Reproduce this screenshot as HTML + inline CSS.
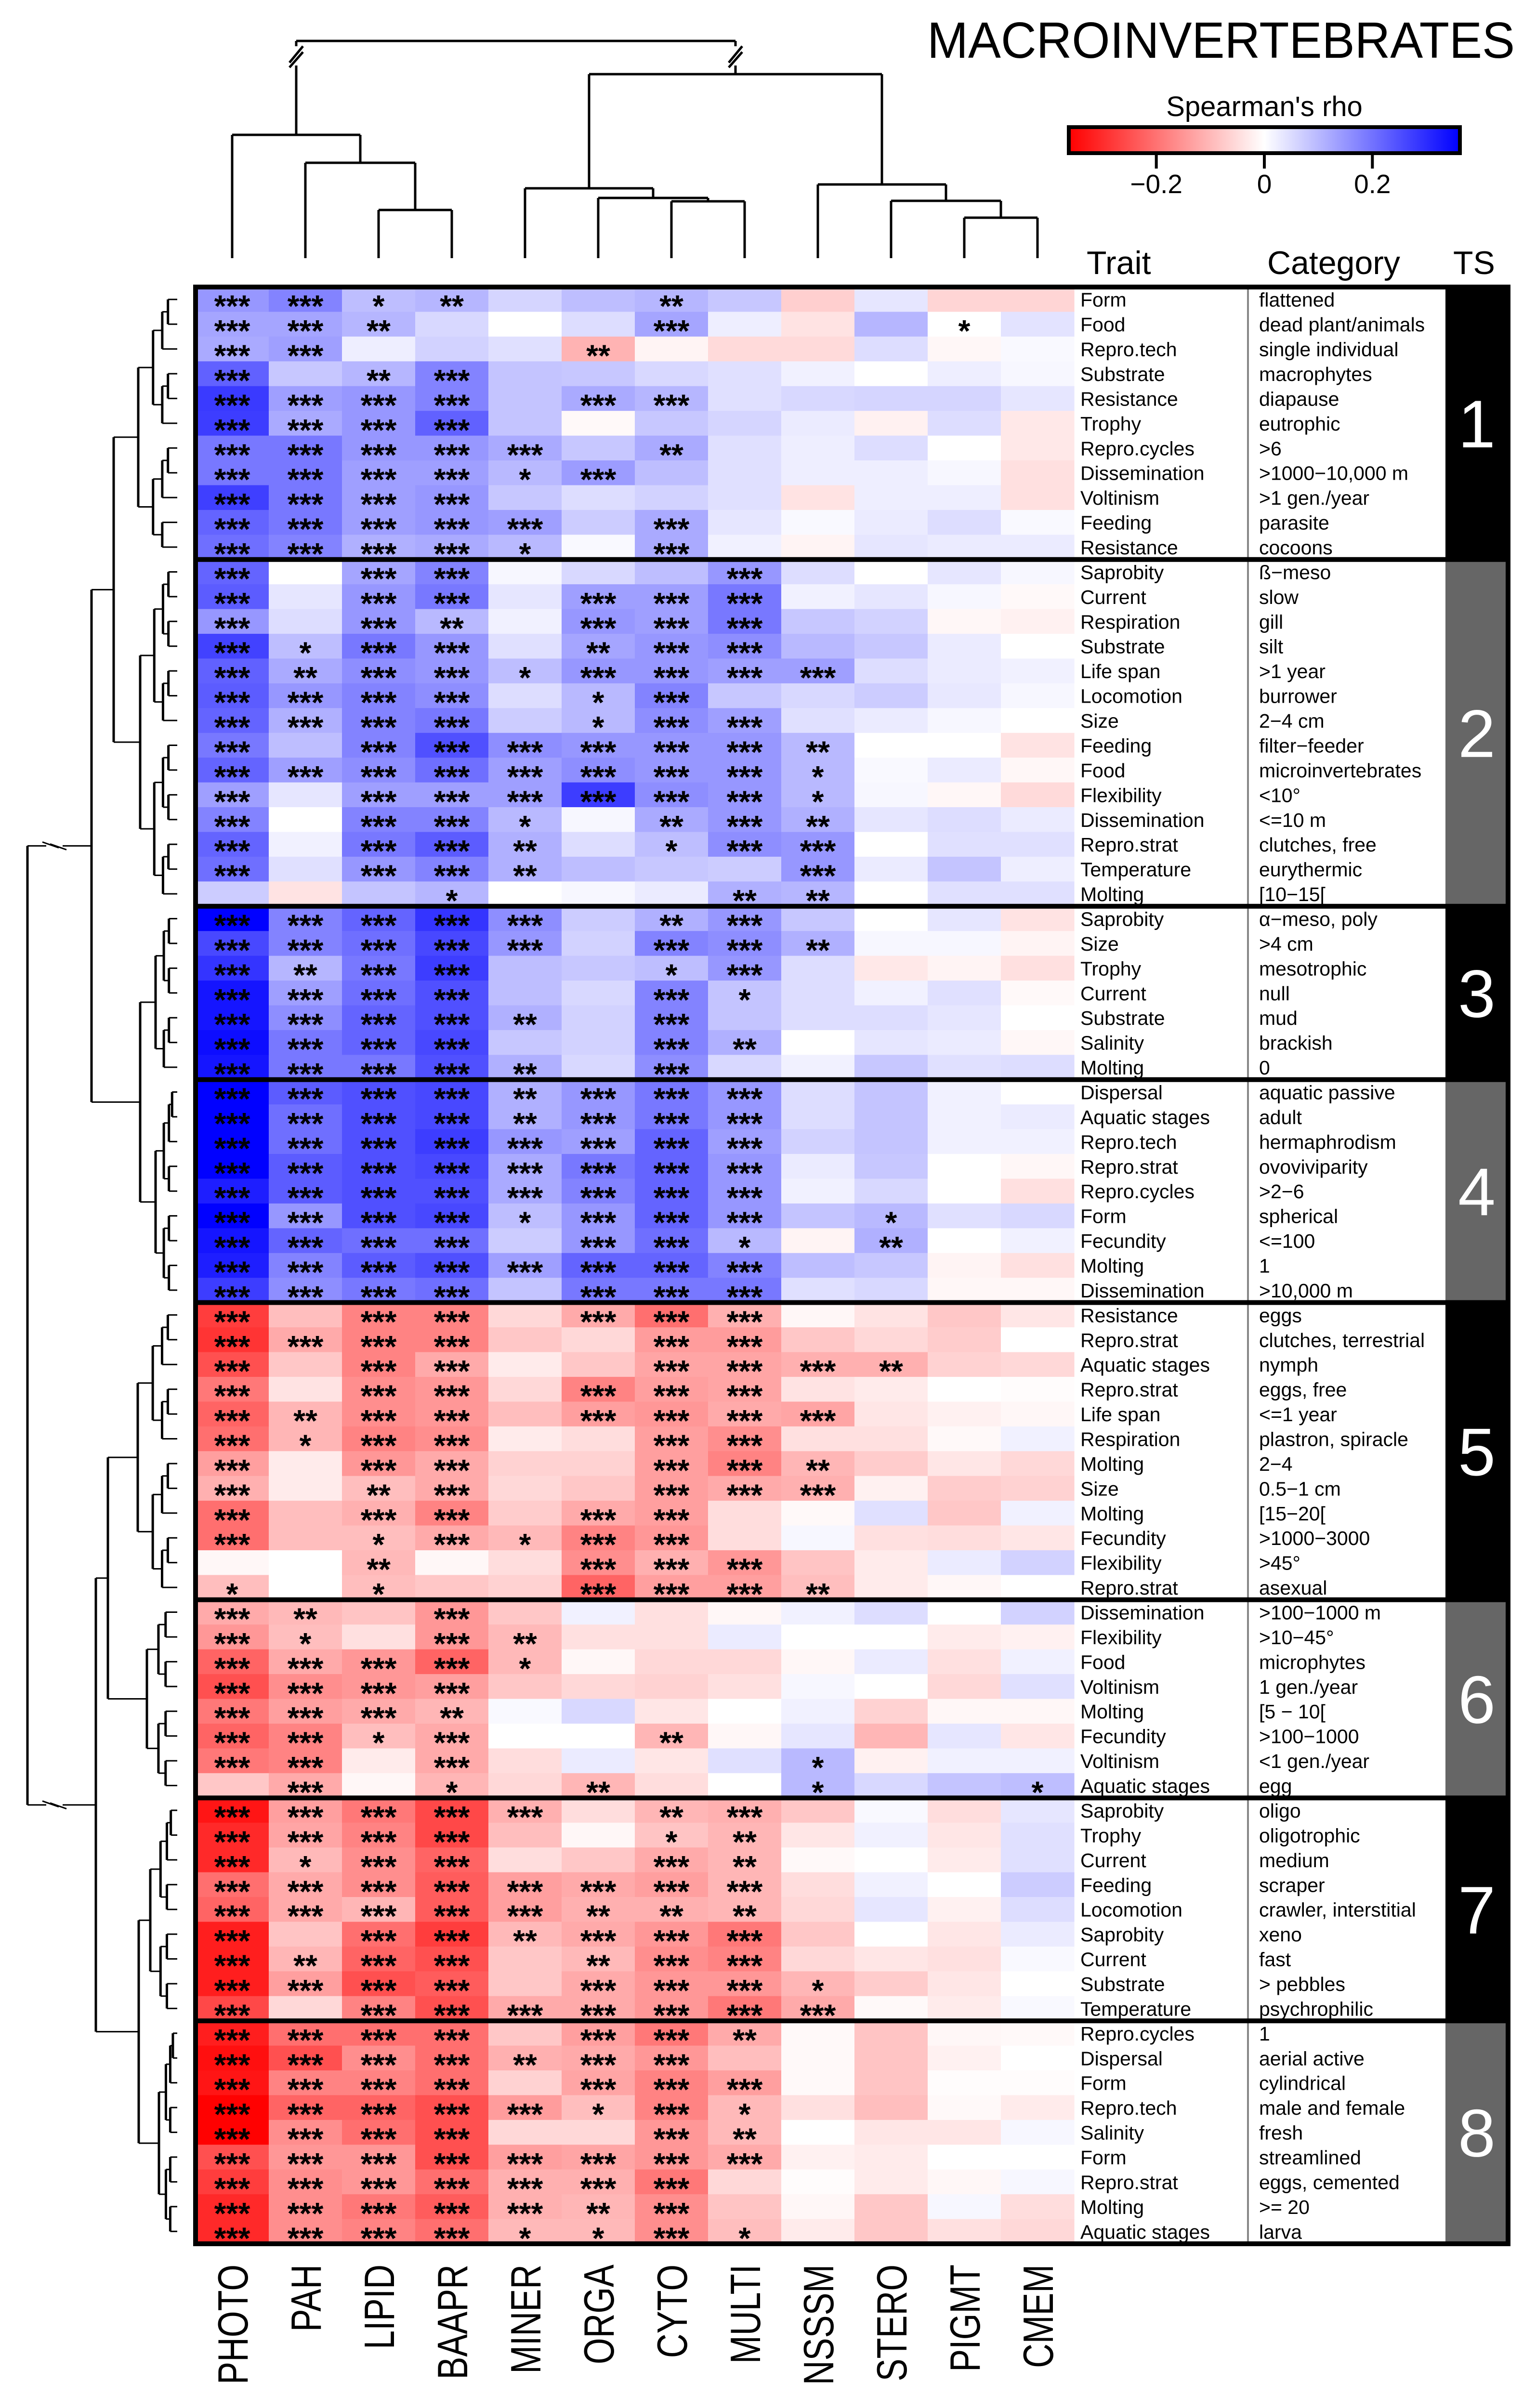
<!DOCTYPE html>
<html><head><meta charset="utf-8"><title>Macroinvertebrates heatmap</title>
<style>html,body{margin:0;padding:0;background:#fff;overflow:hidden}svg{display:block}text{font-family:"Liberation Sans",sans-serif}</style>
</head><body>
<svg id="chart" xmlns="http://www.w3.org/2000/svg" width="3189" height="5041" viewBox="0 0 3189 5041">
<rect x="0" y="0" width="3189" height="5041" fill="#fff"/>
<text x="1925" y="120" font-size="106" textLength="1220" lengthAdjust="spacingAndGlyphs">MACROINVERTEBRATES</text>
<text x="2625" y="241" font-size="58" text-anchor="middle">Spearman's rho</text>
<defs><linearGradient id="cbg" x1="0" x2="1" y1="0" y2="0"><stop offset="0" stop-color="#ff0000"/><stop offset="0.5" stop-color="#ffffff"/><stop offset="1" stop-color="#0000ff"/></linearGradient></defs>
<rect x="2219" y="264" width="812" height="54" fill="url(#cbg)" stroke="#000" stroke-width="8"/>
<g id="cbticks"></g>
<text x="2256" y="569" font-size="68">Trait</text>
<text x="2631" y="569" font-size="68">Category</text>
<text x="3017" y="569" font-size="68">TS</text>
<g id="coldendro" stroke="#000" stroke-width="5" fill="none"></g>
<g id="rowdendro" stroke="#000" fill="none"></g>
<g id="cells"></g>
<g id="stars"></g>
<g id="labels"></g>
<g id="ts"></g>
<g id="collabels"></g>
<g id="frame"></g>
</svg>
<script>
const columns = ["PHOTO","PAH","LIPID","BAAPR","MINER","ORGA","CYTO","MULTI","NSSSM","STERO","PIGMT","CMEM"];
const traits = ["Form","Food","Repro.tech","Substrate","Resistance","Trophy","Repro.cycles","Dissemination","Voltinism","Feeding","Resistance",
"Saprobity","Current","Respiration","Substrate","Life span","Locomotion","Size","Feeding","Food","Flexibility","Dissemination","Repro.strat","Temperature","Molting",
"Saprobity","Size","Trophy","Current","Substrate","Salinity","Molting",
"Dispersal","Aquatic stages","Repro.tech","Repro.strat","Repro.cycles","Form","Fecundity","Molting","Dissemination",
"Resistance","Repro.strat","Aquatic stages","Repro.strat","Life span","Respiration","Molting","Size","Molting","Fecundity","Flexibility","Repro.strat",
"Dissemination","Flexibility","Food","Voltinism","Molting","Fecundity","Voltinism","Aquatic stages",
"Saprobity","Trophy","Current","Feeding","Locomotion","Saprobity","Current","Substrate","Temperature",
"Repro.cycles","Dispersal","Form","Repro.tech","Salinity","Form","Repro.strat","Molting","Aquatic stages"];
const categories = ["flattened","dead plant/animals","single individual","macrophytes","diapause","eutrophic",">6",">1000\u221210,000 m",">1 gen./year","parasite","cocoons",
"\u00df\u2212meso","slow","gill","silt",">1 year","burrower","2\u22124 cm","filter\u2212feeder","microinvertebrates","<10\u00b0","<=10 m","clutches, free","eurythermic","[10\u221215[",
"\u03b1\u2212meso, poly",">4 cm","mesotrophic","null","mud","brackish","0",
"aquatic passive","adult","hermaphrodism","ovoviviparity",">2\u22126","spherical","<=100","1",">10,000 m",
"eggs","clutches, terrestrial","nymph","eggs, free","<=1 year","plastron, spiracle","2\u22124","0.5\u22121 cm","[15\u221220[",">1000\u22123000",">45\u00b0","asexual",
">100\u22121000 m",">10\u221245\u00b0","microphytes","1 gen./year","[5 \u2212 10[",">100\u22121000","<1 gen./year","egg",
"oligo","oligotrophic","medium","scraper","crawler, interstitial","xeno","fast","> pebbles","psychrophilic",
"1","aerial active","cylindrical","male and female","fresh","streamlined","eggs, cemented",">= 20","larva"];
const groupSizes = [11,14,7,9,12,8,9,9];
const groupLabels = ["1","2","3","4","5","6","7","8"];
const rhoPerUnit = 0.04;
// values in units of 0.04 rho (9 units = colour-scale maximum)
const values = [
[3.7,4.4,2.3,2.6,1.5,2.3,2.6,2,-1.7,0.9,-1.5,-1.5],
[3.2,3.2,2.6,1.4,0,1.2,3.2,0.6,-1,2.6,0,1],
[3,3.4,0.6,1.6,1.1,-2.7,-0.4,-1.3,-1.3,1.2,-0.3,0.2],
[5.6,2,2.6,4.4,2.1,2,1.4,1.1,0.5,0,0.6,0.3],
[7,3.4,3.7,4.4,2.1,3,2.6,1.1,1.4,1.5,1.5,0.9],
[6.9,3,3.7,5.6,2.1,-0.2,2,1.5,0.7,-0.5,1.2,-0.8],
[4.8,4.8,3.7,3.7,3,2,3,1.1,0.6,1.2,0,-0.8],
[4.8,4.8,3.4,3.4,2.5,3.5,2.3,1.1,0.6,0.6,0.3,-1.1],
[6.8,4.8,3.4,3.7,2,1.2,1.6,1.1,-1,0.6,0.6,-1.1],
[5.5,4.8,3.4,3.7,3.4,1.8,3,0.9,0.2,0.7,1.2,0.2],
[5.1,4.4,2.8,3,2.5,0.2,3,0.5,-0.4,0.9,0.7,0.7],
[5.5,0,3.2,4.4,0.3,1.4,2.3,3.7,1.2,0,0.9,0.3],
[5.8,0.9,3.7,4.8,0.9,3.4,3.4,4.8,0.5,0.9,0.3,-0.2],
[3.7,1.2,3.7,2.5,0.5,3.7,3.4,4.8,2,1.6,-0.3,-0.5],
[6.7,2.3,4.8,3.7,1.1,3.2,3.7,4,2.5,2,0.7,0],
[5.6,3,4,3.7,2.3,3.7,3.7,3.4,3.4,1.2,0.7,0.5],
[5.8,3.7,4.4,4,1.2,2.5,4.4,2,1.4,1.8,0.8,0.3],
[5.5,2.8,4.4,4.8,1.8,2.5,4,3.4,1.1,0.7,0.3,0],
[4.8,2.3,4.4,6.2,4,3.7,3.7,3.7,2.5,0,0,-1],
[5.5,3.4,4,5.1,3.4,4,3.7,3.7,2.5,0.2,0.7,-0.3],
[3.4,0.9,3.4,3.4,3.4,6.9,4,3.7,2.5,0.3,-0.3,-1.3],
[4.4,0,4.4,4.4,2.5,0.3,3,3.7,2.8,0.9,1.2,0.7],
[5.5,0.5,4.8,5.8,2.8,1.2,2.3,4,3.7,0,1.1,1.1],
[5.1,1.1,3.7,4.4,2.8,2.3,2,1.8,3.7,0.7,2.1,0.6],
[1.8,-1,2.1,2.6,0,0.3,0.7,2.8,2.6,0,1.1,1.1],
[9,4.4,5.5,7.2,4,1.8,2.8,3.7,2,0,0.9,-1],
[6.5,4.4,5.1,6.5,3.7,1.6,4.4,4,2.8,0.3,0.3,-0.4],
[7.2,2.6,4.8,6.9,2.3,2,2.3,3.7,1.2,-0.8,-0.4,-1.1],
[8.3,3.4,5.1,6.2,2.3,1.4,4.4,2.1,1.2,0.5,1.1,-0.2],
[8.3,4,5.5,6.2,2.8,1.6,4.4,2.1,1.2,1.2,0.9,0],
[8.6,4.8,5.5,6.5,2,1.6,4.4,2.8,0,0.9,0.7,-0.3],
[8.3,4.8,4.8,6.2,2.8,1.4,4,1.4,0.5,2,1.1,1.2],
[9,5.8,6.2,6.5,2.8,3.7,4.8,3.7,1.2,2.1,0.5,0],
[9,5.1,6.2,6.5,2.8,3.7,4.8,3.7,1.2,2.1,0.5,0.7],
[9,5.1,6.2,6.9,3.7,3.4,5.5,3.4,1.6,2.1,0.5,0.5],
[9,5.8,6.2,6.5,3,4.8,5.5,3.7,0.7,2,0,-0.3],
[8,5.8,6.2,6.2,3,4.4,5.5,3.7,0.5,1.4,0,-1.1],
[9,3.7,6.2,6.5,2.3,3.7,5.5,3.7,2.1,2.5,1.1,1.4],
[8.3,5.5,5.1,5.1,1.8,3.7,5.1,2.5,-0.4,2.8,0,0.5],
[8,4.4,5.8,6.2,3.4,5.5,5.5,4.4,2.3,2,-0.4,-1.1],
[6.9,4,4.8,5.1,2.1,4.8,4.8,4.8,1.1,1.4,-0.3,-0.3],
[-6.9,-2.3,-4.4,-4.4,-1.4,-3,-5.1,-2.8,-0.3,-1,-2,-0.9],
[-7.2,-3,-4.4,-4.4,-2,-1.4,-3.5,-3.5,-2,-1.4,-1.8,0],
[-6.2,-2,-4.4,-3,-0.7,-2,-3.2,-3.2,-2.8,-2.8,-1.6,-1.4],
[-4.8,-1,-4,-3.7,-1.4,-4.4,-3.4,-3.2,-1,-0.7,0,-0.1],
[-5.5,-2.6,-4,-3.7,-2.3,-3.4,-3.7,-3,-3.2,-0.9,-0.5,-0.3],
[-5.1,-2.6,-4.4,-4,-0.7,-1.2,-3.4,-4,-1.1,-1.1,-0.2,0.5],
[-3.4,-0.7,-3.7,-3,-1.6,-1.6,-3.4,-4.4,-2.6,-1.8,-0.9,-1.4],
[-2.8,-0.7,-2.3,-3,-1.4,-2,-3.4,-3,-2.8,-0.5,-1.8,-1.6],
[-5.1,-2.3,-2.8,-4.4,-1.8,-3,-3.4,-1.2,-0.2,1.1,-2,0.5],
[-5.1,-2.3,-2.3,-3,-2.5,-4.4,-3.7,-1.2,0.3,-1.1,-1.2,-0.9],
[-0.3,0,-2.5,-0.3,-1.2,-4,-2.8,-3.7,-2.1,-0.7,0.7,1.6],
[-2.3,0,-2.3,-2,-1.6,-5.5,-3.4,-3.4,-2.3,-0.7,-0.3,0],
[-3,-2.5,-2.1,-3.7,-2,0.5,-1.1,-0.3,0.5,1.2,0,1.6],
[-3.7,-2.3,-1.1,-3.7,-2.5,-1.1,-1.1,0.7,0,0,-0.7,-0.5],
[-5.5,-3,-3.7,-5.5,-2.5,-0.3,-1.4,-1.4,-0.3,0.7,-1.1,0.5],
[-6.2,-4,-3.7,-3.4,-2,-1.4,-1.6,-1.1,0.3,0,-1.4,1.1],
[-4.8,-3.4,-3,-2.6,0.2,1.4,-0.9,0,0.5,-1.6,-0.3,-0.3],
[-5.5,-4.4,-2.3,-3,0,0,-2.6,-0.3,0.9,-2.6,0.9,-0.9],
[-4.8,-4.4,-0.7,-3,-1.2,0.7,-0.9,1.1,2.5,-0.5,0.5,0.5],
[-2,-3,-0.3,-2.6,-1.4,-2.6,-1.2,0,2.5,1.4,2.1,2.3],
[-8.3,-3.4,-4.8,-6.5,-2.8,-1.2,-2.6,-2.8,-2,0.2,-1.2,0.9],
[-7.6,-3.2,-4.4,-6.5,-2.3,-0.3,-2.1,-2.6,-0.9,0.5,-0.9,1.1],
[-7.6,-2.5,-4,-5.5,-1.2,-2,-3,-2.6,-0.2,0,-0.7,1.1],
[-5.1,-3,-4,-5.8,-3.4,-3,-3.4,-2.6,-1.2,0.5,0,1.8],
[-5.5,-3,-2.6,-5.8,-3.4,-2.8,-2.8,-2.6,-1.4,0.9,-0.5,1.2],
[-8,-2.1,-5.1,-6.9,-2.5,-3,-3.7,-4.8,-2,0,-0.9,0.7],
[-8,-2.6,-5.5,-6.2,-2,-2.5,-4,-4.4,-1.4,-0.9,-1.1,0.2],
[-8,-3.4,-6.2,-5.8,-2,-3,-3.7,-3.7,-2.6,-1.8,-0.9,0],
[-6.5,-1.4,-4.4,-6.2,-3,-3,-3.7,-4.8,-3,-0.2,-0.7,0.2],
[-8,-5.1,-5.1,-5.1,-2,-3.4,-4.8,-3,-0.2,-2.1,-0.3,-0.2],
[-8.5,-6.2,-4,-5.1,-2.8,-3,-3.7,-2.3,-0.2,-2.1,-0.5,0],
[-8.3,-4.4,-4.4,-5.1,-1.6,-3.2,-4.4,-3.4,-0.2,-2.1,-0.1,-0.1],
[-9,-5.5,-5.5,-6.2,-3.5,-2.3,-4.4,-2.5,-1.1,-2.3,-0.2,-0.7],
[-9,-4,-5.1,-6.2,-1.4,-1.4,-3.7,-2.5,0,-0.9,-0.9,0.3],
[-6.2,-3.7,-3.7,-6.2,-3.4,-3.2,-3.7,-3,-0.5,-0.7,0,0],
[-6.9,-4,-3.7,-5.1,-2.8,-2.8,-4.8,-1.4,-0.1,-0.7,-0.3,0.3],
[-7.6,-4,-4.8,-5.8,-2.8,-2.6,-4,-2.1,-0.3,-2,0.3,-1.2],
[-7.6,-4,-4.4,-5.1,-2.5,-2.5,-4,-2.3,-0.7,-2,-1.1,-1.4]
];
// number of significance stars per cell
const stars = ["331200200000","332000300010","330002000000","302300000000","333303300000","333300000000","333330200000","333313000000","333300000000","333330300000","333310300000",
"303300030000","303303330000","303203330000","313302330000","323313333000","333301300000","333301330000","303333332000","333333331000","303333331000","303310232000","303320133000","303320003000","000100022000",
"333330230000","333330332000","323300130000","333300310000","333320300000","333300320000","333320300000",
"333323330000","333323330000","333333330000","333333330000","333333330000","333313330100","333303310200","333333330000","333303330000",
"303303330000","333300330000","303300333200","303303330000","323303333000","313300330000","303300332000","302300333000","303303300000","301313300000","002003330000","101003332000",
"320300000000","310320000000","333310000000","333300000000","333200000000","331300200000","330300001000","030102001001",
"333330230000","333300120000","313300320000","333333330000","333332220000","303323330000","323302330000","333303331000","303333333000",
"333303320000","333323300000","333303330000","333331310000","333300320000","333333330000","333333300000","333332300000","333311310000"];
const cbTicks = [-0.2, 0, 0.2];
const cbTickLabels = ["\u22120.2","0","0.2"];
const rhoMax = 0.362;

const NS="http://www.w3.org/2000/svg";
function mk(tag, attrs, parent){const e=document.createElementNS(NS,tag);for(const k in attrs)e.setAttribute(k,attrs[k]);parent.appendChild(e);return e;}
const X0=406, CW=152, Y0=596, Y1=4659, NR=traits.length, RH=(Y1-Y0)/NR;
const xCol=j=>X0+j*CW, yRow=i=>Y0+i*RH;
const cbX=v=>2625+v/rhoMax*406;
function color(v){let r=v*rhoPerUnit/rhoMax;r=Math.max(-1,Math.min(1,r));const c=Math.round(255*(1-Math.abs(r)));return r>=0?`rgb(${c},${c},255)`:`rgb(255,${c},${c})`;}

// colorbar ticks
const cbt=document.getElementById('cbticks');
cbTicks.forEach((t,k)=>{
  const l=mk('line',{x1:cbX(t),x2:cbX(t),y1:318,y2:350,stroke:'#000','stroke-width':6},cbt);
  
  
  const tx=mk('text',{x:cbX(t),y:401,'font-size':55,'text-anchor':'middle'},cbt);
  tx.textContent=cbTickLabels[k];
  
  
});

// cells + stars
const gc=document.getElementById('cells'), gs=document.getElementById('stars');
values.forEach((row,i)=>row.forEach((v,j)=>{
  const r=mk('rect',{x:xCol(j),y:yRow(i),width:CW+0.6,height:RH+0.6,fill:color(v)},gc);
  
  
  const n=+stars[i][j];
  if(n>0){const t=mk('text',{x:xCol(j)+CW/2,y:yRow(i)+RH/2+36,'font-size':64,'font-weight':'bold','text-anchor':'middle'},gs);
    t.textContent='*'.repeat(n);
    
    }
}));

// labels
const gl=document.getElementById('labels');
traits.forEach((tr,i)=>{
  const a=mk('text',{x:2243,y:yRow(i)+RH/2+15,'font-size':41},gl);a.textContent=tr;
  
  
  const b=mk('text',{x:2614,y:yRow(i)+RH/2+15,'font-size':41},gl);b.textContent=categories[i];
  
  
});

// TS column and separators
const gt=document.getElementById('ts'), gf=document.getElementById('frame');
let start=0; const bounds=[];
groupSizes.forEach((n,g)=>{
  const y0=yRow(start), y1=yRow(start+n);
  const r=mk('rect',{x:3001,y:y0,width:130,height:y1-y0,fill:g%2?'#666666':'#000000'},gt);
  
  
  const t=mk('text',{x:3066,y:(y0+y1)/2+50,'font-size':140,fill:'#fff','text-anchor':'middle'},gt);t.textContent=groupLabels[g];
  
  
  start+=n; bounds.push(start);
});
const dv=mk('line',{x1:2591,x2:2591,y1:Y0,y2:Y1,stroke:'#888','stroke-width':4},gf);


bounds.slice(0,-1).forEach(b=>{
  const l=mk('line',{x1:X0,x2:3131,y1:yRow(b),y2:yRow(b),stroke:'#000','stroke-width':10},gf);
  
  
});
const fr=mk('rect',{x:X0,y:Y0,width:3131-X0,height:Y1-Y0,fill:'none',stroke:'#000','stroke-width':10},gf);



// column labels
const gcl=document.getElementById('collabels');
columns.forEach((c,j)=>{
  const cx=xCol(j)+CW/2+32;
  const t=mk('text',{x:0,y:0,'font-size':88,'text-anchor':'end',transform:`translate(${cx} 4702) rotate(-90) scale(0.8 1)`},gcl);
  t.textContent=c;
  
  
});

// column dendrogram
const cd=document.getElementById('coldendro');
const colTree={h:85,brk:true,c:[{h:280,c:[0,{h:338,c:[1,{h:436,c:[2,3]}]}]},{h:154,c:[{h:391,c:[4,{h:411,c:[5,{h:418,c:[6,7]}]}]},{h:383,c:[8,{h:417,c:[9,{h:452,c:[10,11]}]}]}]}]};
function drawCol(n){
  if(typeof n==='number') return {x:xCol(n)+CW/2,y:536};
  const a=drawCol(n.c[0]), b=drawCol(n.c[1]);
  mk('line',{x1:a.x,x2:b.x,y1:n.h,y2:n.h},cd);
  mk('line',{x1:a.x,x2:a.x,y1:n.h,y2:a.y},cd);
  mk('line',{x1:b.x,x2:b.x,y1:n.h,y2:b.y},cd);
  if(n.brk){[a.x,b.x].forEach(x=>{
    mk('rect',{x:x-14,y:96,width:28,height:40,fill:'#fff',stroke:'none'},cd);
    mk('line',{x1:x-14,y1:130,x2:x+14,y2:96},cd);
    mk('line',{x1:x-14,y1:140,x2:x+14,y2:108},cd);});}
  return {x:(a.x+b.x)/2,y:n.h};
}
drawCol(colTree);

// row dendrogram
const rd=document.getElementById('rowdendro');
const LEAFX=368;
const groupStarts=[0];groupSizes.forEach(n=>groupStarts.push(groupStarts[groupStarts.length-1]+n));
function sub(a,b,x){
  if(a===b) return {x:LEAFX,y:yRow(a)+RH/2};
  const m=Math.floor((a+b)/2);
  const nx=x+(LEAFX-x)*0.38;
  const p=sub(a,m,nx), q=sub(m+1,b,nx);
  join(x,p,q);return {x:x,y:(p.y+q.y)/2};
}
function join(x,p,q){
  mk('line',{x1:x,x2:x,y1:p.y,y2:q.y,'stroke-width':5},rd);
  mk('line',{x1:x,x2:p.x,y1:p.y,y2:p.y,'stroke-width':3},rd);
  mk('line',{x1:x,x2:q.x,y1:q.y,y2:q.y,'stroke-width':3},rd);
}
const gx=[287,291,323,323,286,305,312,330];
const gn=gx.map((x,g)=>sub(groupStarts[g],groupStarts[g+1]-1,x));
function node(x,p,q){join(x,p,q);return {x:x,y:(p.y+q.y)/2};}
const A=node(236,gn[0],gn[1]), B=node(291,gn[2],gn[3]), U=node(190,A,B);
const C=node(224,gn[4],gn[5]), D=node(288,gn[6],gn[7]), L=node(199,C,D);
node(57,U,L);
[U.y,L.y].forEach(y=>{
  mk('rect',{x:96,y:y-10,width:34,height:20,fill:'#fff',stroke:'none'},rd);
  mk('line',{x1:88,y1:y-8,x2:122,y2:y+4,'stroke-width':3},rd);
  mk('line',{x1:104,y1:y-4,x2:138,y2:y+8,'stroke-width':3},rd);
});
</script>
</body></html>
